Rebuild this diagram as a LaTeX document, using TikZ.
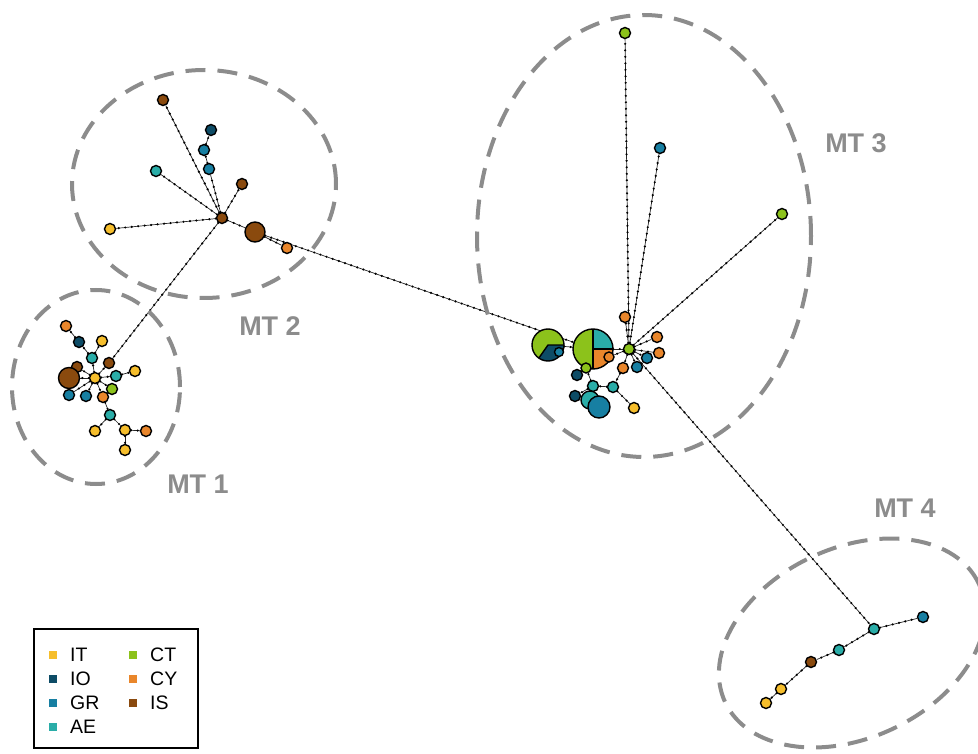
\documentclass[tikz,border=0pt]{standalone}
\usepackage{fontspec}
\setmainfont{Liberation Sans}
\usetikzlibrary{backgrounds}
\definecolor{cIT}{HTML}{F6BE2C}
\definecolor{cIO}{HTML}{0D4C66}
\definecolor{cGR}{HTML}{177FA2}
\definecolor{cAE}{HTML}{2AADA8}
\definecolor{cCT}{HTML}{8CC21B}
\definecolor{cCY}{HTML}{E9862B}
\definecolor{cIS}{HTML}{8A4A0E}
\definecolor{grp}{HTML}{8C8C8C}
\tikzset{
  hap/.style={circle, draw=black, line width=1.4pt, inner sep=0pt, minimum size=11pt},
  bighap/.style={hap, minimum size=#1},
  link/.style={draw=black!85, line width=0.7pt, postaction={draw=black, line width=2.4pt, dash pattern=on 0pt off 6.5pt, line cap=round}},
  grouping/.style={draw=grp, line width=4pt, dash pattern=on 20pt off 12pt},
  mtlabel/.style={text=grp, font=\fontsize{27}{30}\selectfont\bfseries, inner sep=0pt},
  legtext/.style={font=\fontsize{19.5}{21}\selectfont, anchor=west, inner sep=0pt},
  legsq/.style={minimum size=8pt, inner sep=0pt, draw=none},
}
\begin{document}
\begin{tikzpicture}[x=1pt,y=1pt]
\useasboundingbox (0,0) rectangle (978,-754);
% group ellipses
\draw[grouping] (96,-387) ellipse [x radius=84, y radius=97];
\draw[grouping] (204,-184) ellipse [x radius=132, y radius=114];
\draw[grouping] (644,-236) ellipse [x radius=167, y radius=221];
\draw[grouping] (852,-643) ellipse [x radius=140, y radius=95, rotate=25];
\node[mtlabel] (l1) at (198,-484) {MT 1};
\node[mtlabel] (l2) at (270,-326) {MT 2};
\node[mtlabel] (l3) at (856,-143) {MT 3};
\node[mtlabel] (l4) at (905,-508) {MT 4};

% ---------- MT1 ----------
\node[hap, fill=cIT] (m1h) at (95,-378) {};
\node[hap, fill=cAE] (m1a) at (92,-358) {};
\node[hap, fill=cIO] (m1b) at (79,-342) {};
\node[hap, fill=cCY] (m1c) at (66,-326) {};
\node[hap, fill=cIT] (m1d) at (102,-341) {};
\node[hap, fill=cIS] (m1e) at (109,-363) {};
\node[hap, fill=cIS] (m1f) at (77,-367) {};
\node[bighap=21pt, fill=cIS] (m1g) at (69,-378) {};
\node[hap, fill=cAE] (m1i) at (116,-376) {};
\node[hap, fill=cIT] (m1j) at (135,-371) {};
\node[hap, fill=cCT] (m1k) at (112,-389) {};
\node[hap, fill=cGR] (m1l) at (69,-395) {};
\node[hap, fill=cGR] (m1m) at (86,-396) {};
\node[hap, fill=cCY] (m1n) at (103,-397) {};
\node[hap, fill=cAE] (m1o) at (110,-415) {};
\node[hap, fill=cIT] (m1p) at (95,-431) {};
\node[hap, fill=cIT] (m1q) at (125,-430) {};
\node[hap, fill=cCY] (m1r) at (146,-431) {};
\node[hap, fill=cIT] (m1s) at (125,-450) {};

% ---------- MT2 ----------
\node[hap, fill=cIS] (m2h) at (222,-218) {};
\node[bighap=20pt, fill=cIS] (m2b) at (255,-232) {};
\node[hap, fill=cCY] (m2o) at (287,-248) {};
\node[hap, fill=cIS] (m2t) at (163,-100) {};
\node[hap, fill=cIO] (m2io) at (211,-130) {};
\node[hap, fill=cGR] (m2g1) at (204,-150) {};
\node[hap, fill=cGR] (m2g2) at (209,-169) {};
\node[hap, fill=cAE] (m2ae) at (156,-171) {};
\node[hap, fill=cIS] (m2is) at (242,-184) {};
\node[hap, fill=cIT] (m2it) at (110,-229) {};

% ---------- MT3 ----------
\node[circle, minimum size=32pt, inner sep=0pt] (pieB) at (548,-345) {};
\fill[cCT] (pieB.center) circle (16);
\fill[cIO] (pieB.center) -- ++(-125:16) arc[start angle=-125, end angle=0, radius=16] -- cycle;
\draw[black, line width=1.4pt] (pieB.center) ++(-125:16) -- (pieB.center) -- ++(0:16);
\draw[black, line width=1.4pt] (pieB.center) circle (16);
\node[hap, minimum size=9pt, fill=cGR] (m3gB) at (559,-352) {};

\node[circle, minimum size=40pt, inner sep=0pt] (pieA) at (593,-349) {};
\fill[cCT] (pieA.center) -- ++(90:20) arc[start angle=90, end angle=270, radius=20] -- cycle;
\fill[cAE] (pieA.center) -- ++(0:20) arc[start angle=0, end angle=90, radius=20] -- cycle;
\fill[cCY] (pieA.center) -- ++(270:20) arc[start angle=270, end angle=360, radius=20] -- cycle;
\draw[black, line width=1.4pt] (pieA.center) ++(0,20) -- ++(0,-40);
\draw[black, line width=1.4pt] (pieA.center) -- ++(20,0);
\draw[black, line width=1.4pt] (pieA.center) circle (20);
\node[hap, minimum size=10pt, fill=cCY] (m3o5) at (609,-357) {};
\node[hap, minimum size=10pt, fill=cCT] (m3c1) at (586,-368) {};

\node[hap, fill=cCT] (m3h) at (629,-349) {};
\node[hap, fill=cCT] (m3ct) at (625,-33) {};
\node[hap, fill=cGR] (m3gr) at (660,-148) {};
\node[hap, fill=cCT] (m3ct2) at (782,-214) {};
\node[hap, fill=cCY] (m3o1) at (625,-317) {};
\node[hap, fill=cCY] (m3o2) at (657,-337) {};
\node[hap, fill=cCY] (m3o3) at (659,-353) {};
\node[hap, fill=cGR] (m3g1) at (647,-358) {};
\node[hap, fill=cGR] (m3g2) at (637,-367) {};
\node[hap, fill=cCY] (m3o4) at (623,-368) {};
\node[hap, fill=cAE] (m3a1) at (613,-387) {};
\node[hap, fill=cIT] (m3it) at (634,-408) {};
\node[hap, fill=cIO] (m3io1) at (577,-375) {};
\node[hap, fill=cAE] (m3a2) at (593,-386) {};
\node[hap, fill=cIO] (m3io2) at (575,-396) {};
\node[bighap=18pt, fill=cAE] (m3a3) at (590,-400) {};
\node[bighap=22pt, fill=cGR] (m3g3) at (599,-407) {};

% ---------- MT4 ----------
\node[hap, fill=cAE] (m4a) at (874,-629) {};
\node[hap, fill=cGR] (m4g) at (923,-617) {};
\node[hap, fill=cAE] (m4b) at (839,-650) {};
\node[hap, fill=cIS] (m4s) at (811,-662) {};
\node[hap, fill=cIT] (m4i1) at (781,-689) {};
\node[hap, fill=cIT] (m4i2) at (766,-703) {};

% ---------- connectors ----------
\begin{scope}[on background layer]
% MT1
\draw[link] (m1h) -- (m1a);
\draw[link] (m1a) -- (m1b);
\draw[link] (m1b) -- (m1c);
\draw[link] (m1a) -- (m1d);
\draw[link] (m1h) -- (m1e);
\draw[link] (m1h) -- (m1f);
\draw[link] (m1h) -- (m1g);
\draw[link] (m1h) -- (m1i);
\draw[link] (m1i) -- (m1j);
\draw[link] (m1h) -- (m1k);
\draw[link] (m1h) -- (m1l);
\draw[link] (m1h) -- (m1m);
\draw[link] (m1h) -- (m1n);
\draw[link] (m1n) -- (m1o);
\draw[link] (m1o) -- (m1p);
\draw[link] (m1o) -- (m1q);
\draw[link] (m1q) -- (m1r);
\draw[link] (m1q) -- (m1s);
% MT2
\draw[link] (m2h) -- (m1e);
\draw[link] (m2h) -- (m2b);
\draw[link] (m2b) -- (m2o);
\draw[link] (m2h) -- (m2t);
\draw[link] (m2h) -- (m2g2);
\draw[link] (m2g2) -- (m2g1);
\draw[link] (m2g1) -- (m2io);
\draw[link] (m2h) -- (m2ae);
\draw[link] (m2h) -- (m2is);
\draw[link] (m2h) -- (m2it);
\draw[link] (m2b) -- (pieA);
% MT3
\draw[link] (pieB) -- (pieA);
\draw[link] (pieA) -- (m3h);
\draw[link] (m3h) -- (m3ct);
\draw[link] (m3h) -- (m3gr);
\draw[link] (m3h) -- (m3ct2);
\draw[link] (m3h) -- (m3o1);
\draw[link] (m3h) -- (m3o2);
\draw[link] (m3h) -- (m3o3);
\draw[link] (m3h) -- (m3g1);
\draw[link] (m3h) -- (m3g2);
\draw[link] (m3h) -- (m3o4);
\draw[link] (m3h) -- (m3o5);
\draw[link] (m3o4) -- (m3a1);
\draw[link] (m3a1) -- (m3it);
\draw[link] (m3a1) -- (m3a2);
\draw[link] (m3a2) -- (m3c1);
\draw[link] (m3c1) -- (m3io1);
\draw[link] (m3a2) -- (m3io2);
\draw[link] (m3a2) -- (m3a3);
% MT4
\draw[link] (m3h) -- (m4a);
\draw[link] (m4a) -- (m4g);
\draw[link] (m4a) -- (m4b);
\draw[link] (m4b) -- (m4s);
\draw[link] (m4s) -- (m4i1);
\draw[link] (m4i1) -- (m4i2);
\end{scope}

% ---------- legend ----------
\node[draw=black, line width=1.5pt, minimum width=164pt, minimum height=119pt, inner sep=0pt] (leg) at (116,-688.5) {};
\node[legsq, fill=cIT] (s1) at (53,-655) {};
\node[legtext] (t1) at (70,-655) {IT};
\node[legsq, fill=cIO] (s2) at (53,-679) {};
\node[legtext] (t2) at (70,-679) {IO};
\node[legsq, fill=cGR] (s3) at (53,-703) {};
\node[legtext] (t3) at (70,-703) {GR};
\node[legsq, fill=cAE] (s4) at (53,-727) {};
\node[legtext] (t4) at (70,-727) {AE};
\node[legsq, fill=cCT] (s5) at (133,-655) {};
\node[legtext] (t5) at (150,-655) {CT};
\node[legsq, fill=cCY] (s6) at (133,-679) {};
\node[legtext] (t6) at (150,-679) {CY};
\node[legsq, fill=cIS] (s7) at (133,-703) {};
\node[legtext] (t7) at (150,-703) {IS};
\end{tikzpicture}
\end{document}
